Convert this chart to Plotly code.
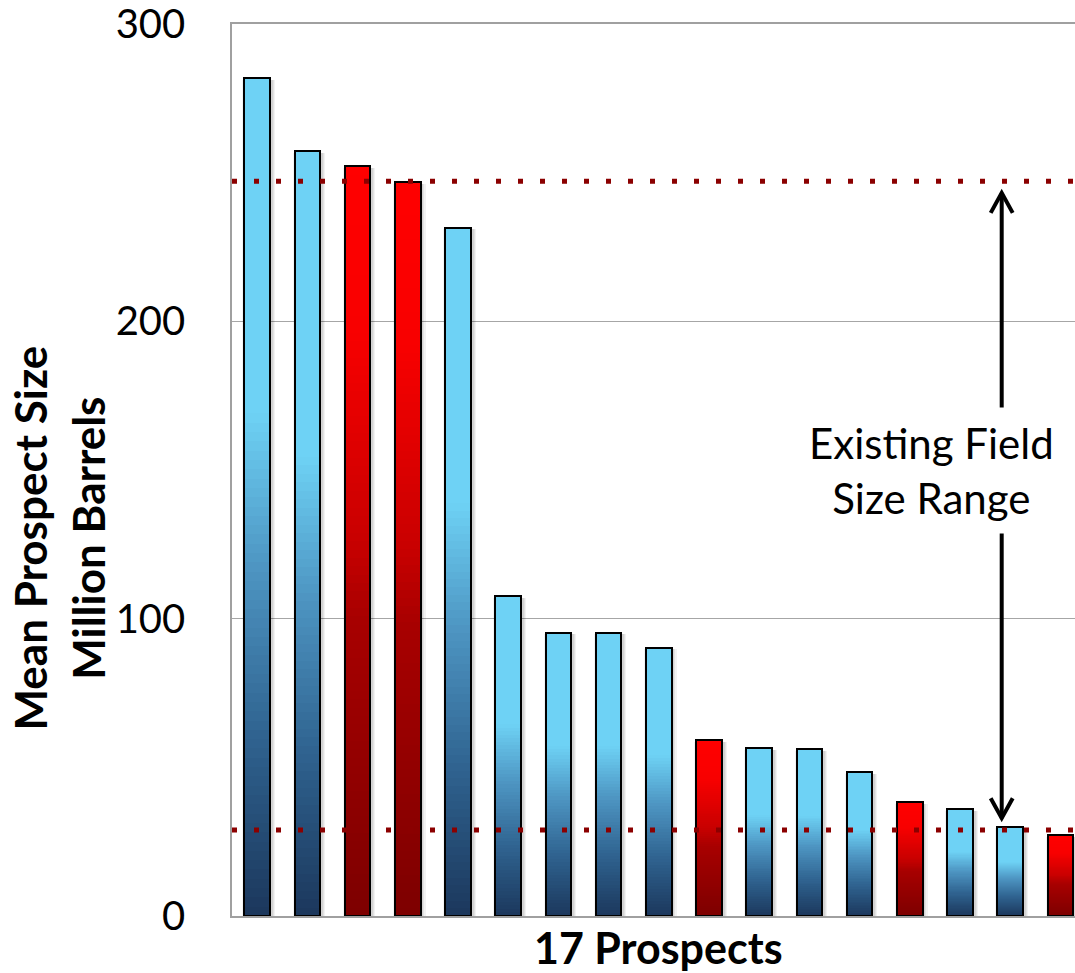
import plotly.graph_objects as go

# ---------------- data ----------------
prospect_idx = list(range(17))
sizes = [281.7, 257.3, 252.1, 246.9, 231.5, 107.6, 95.3, 95.3, 90.3,
         59.1, 56.4, 56.2, 48.4, 38.2, 36.0, 30.1, 27.2]
groups = ["blue", "blue", "red", "red", "blue", "blue", "blue", "blue", "blue",
          "red", "blue", "blue", "blue", "red", "blue", "blue", "red"]
field_min = 28.9
field_max = 247.1
y_ticks = [0, 100, 200, 300]
x_title = "17 Prospects"
y_title = "Mean Prospect Size<br>Million Barrels"
note_text = "Existing Field<br>Size Range"

# ---------------- styles ----------------
FONT = "Lato"
BLUE_STOPS = [(0.0, (27, 55, 92)), (0.22, (48, 100, 145)), (0.42, (78, 150, 195)),
              (0.6, (110, 210, 245)), (1.0, (110, 210, 245))]
RED_STOPS = [(0.0, (125, 0, 0)), (0.4, (168, 0, 0)), (0.5, (200, 0, 0)),
             (0.78, (248, 0, 0)), (1.0, (255, 0, 0))]


def grad(stops, t):
    for (t0, c0), (t1, c1) in zip(stops[:-1], stops[1:]):
        if t <= t1:
            f = (t - t0) / (t1 - t0) if t1 > t0 else 0
            c = [round(a + (b - a) * f) for a, b in zip(c0, c1)]
            return "rgb(%d,%d,%d)" % tuple(c)
    return "rgb(%d,%d,%d)" % stops[-1][1]


BAR_W = 0.51
N = 90
fig = go.Figure()

# soft shadow behind the bars
for extra, alpha in ((0.14, 0.05), (0.09, 0.06), (0.05, 0.07)):
    fig.add_trace(go.Bar(
        x=prospect_idx, y=[v - 0.6 for v in sizes], width=BAR_W + extra,
        offset=-(BAR_W + extra) / 2 + 0.03,
        marker=dict(color="rgba(0,0,0,%.2f)" % alpha, line=dict(width=0)),
        hoverinfo="skip", showlegend=False,
    ))

for k in range(N):
    t0 = k / N
    tc = (k + 0.5) / N
    fig.add_trace(go.Bar(
        x=prospect_idx,
        base=[v * t0 for v in sizes],
        y=[v * (1 - t0) for v in sizes],
        width=BAR_W,
        marker=dict(color=[grad(BLUE_STOPS if g == "blue" else RED_STOPS, tc) for g in groups],
                    line=dict(width=0)),
        hoverinfo="skip", showlegend=False,
    ))

# outline
fig.add_trace(go.Bar(
    x=prospect_idx, y=sizes, width=BAR_W,
    marker=dict(color="rgba(0,0,0,0)", line=dict(color="black", width=2)),
    showlegend=False, hovertemplate="%{y}<extra></extra>",
))

# dotted range lines
for v in (field_max, field_min):
    fig.add_shape(type="line", xref="paper", x0=0, x1=1, yref="y", y0=v, y1=v,
                  line=dict(color="#8B0000", width=5, dash="5px,17px"))

# double arrow
arrow_x = 14.83
arrow_top = field_max - 3.9
arrow_bot = field_min + 4.0
fig.add_shape(type="line", xref="x", x0=arrow_x, x1=arrow_x, yref="y",
              y0=arrow_bot, y1=arrow_top, line=dict(color="black", width=4))
fig.add_shape(type="path", xref="x", yref="y", xsizemode="pixel", ysizemode="pixel",
              xanchor=arrow_x, yanchor=arrow_top, path="M -11,-20 L 0,0 L 11,-20",
              line=dict(color="black", width=4))
fig.add_shape(type="path", xref="x", yref="y", xsizemode="pixel", ysizemode="pixel",
              xanchor=arrow_x, yanchor=arrow_bot, path="M -11,20 L 0,0 L 11,20",
              line=dict(color="black", width=4))

fig.add_annotation(x=13.44, y=150, xref="x", yref="y", text=note_text, showarrow=False,
                   font=dict(family=FONT, size=42, color="black"), bgcolor="white",
                   borderpad=10, align="center")

# axis titles
fig.add_annotation(x=-0.2058, y=0.4237, xref="paper", yref="paper", text="<b>%s</b>" % y_title,
                   textangle=-90, showarrow=False, xanchor="center", yanchor="middle",
                   font=dict(family=FONT, size=44, color="black"))
fig.add_annotation(x=0.5063, y=-0.0355, xref="paper", yref="paper", text="<b>%s</b>" % x_title,
                   showarrow=False, xanchor="center", yanchor="middle",
                   font=dict(family=FONT, size=43, color="black"))

fig.update_layout(
    width=1075, height=973,
    margin=dict(l=232, r=0, t=24, b=57),
    paper_bgcolor="white", plot_bgcolor="white",
    barmode="overlay", bargap=0,
    font=dict(family=FONT, color="black"),
    xaxis=dict(range=[-0.5, 16.29], showticklabels=False, showgrid=False, zeroline=False,
               showline=True, mirror=True, linecolor="#A0A0A0", linewidth=1.5, ticks=""),
    yaxis=dict(range=[0, 300], tickvals=y_ticks, ticktext=[str(v) for v in y_ticks],
               showgrid=True, gridcolor="#A6A6A6", gridwidth=1.3, zeroline=False,
               showline=True, linecolor="#A0A0A0", linewidth=1.5, ticks="",
               ticklabelstandoff=37, ticklabeloverflow="allow", automargin=False,
               tickfont=dict(family=FONT, size=40, color="black")),
)

fig.write_html("out.html", config={"displayModeBar": False},
               post_script="document.body.style.margin='0px';document.body.style.overflow='hidden';")
